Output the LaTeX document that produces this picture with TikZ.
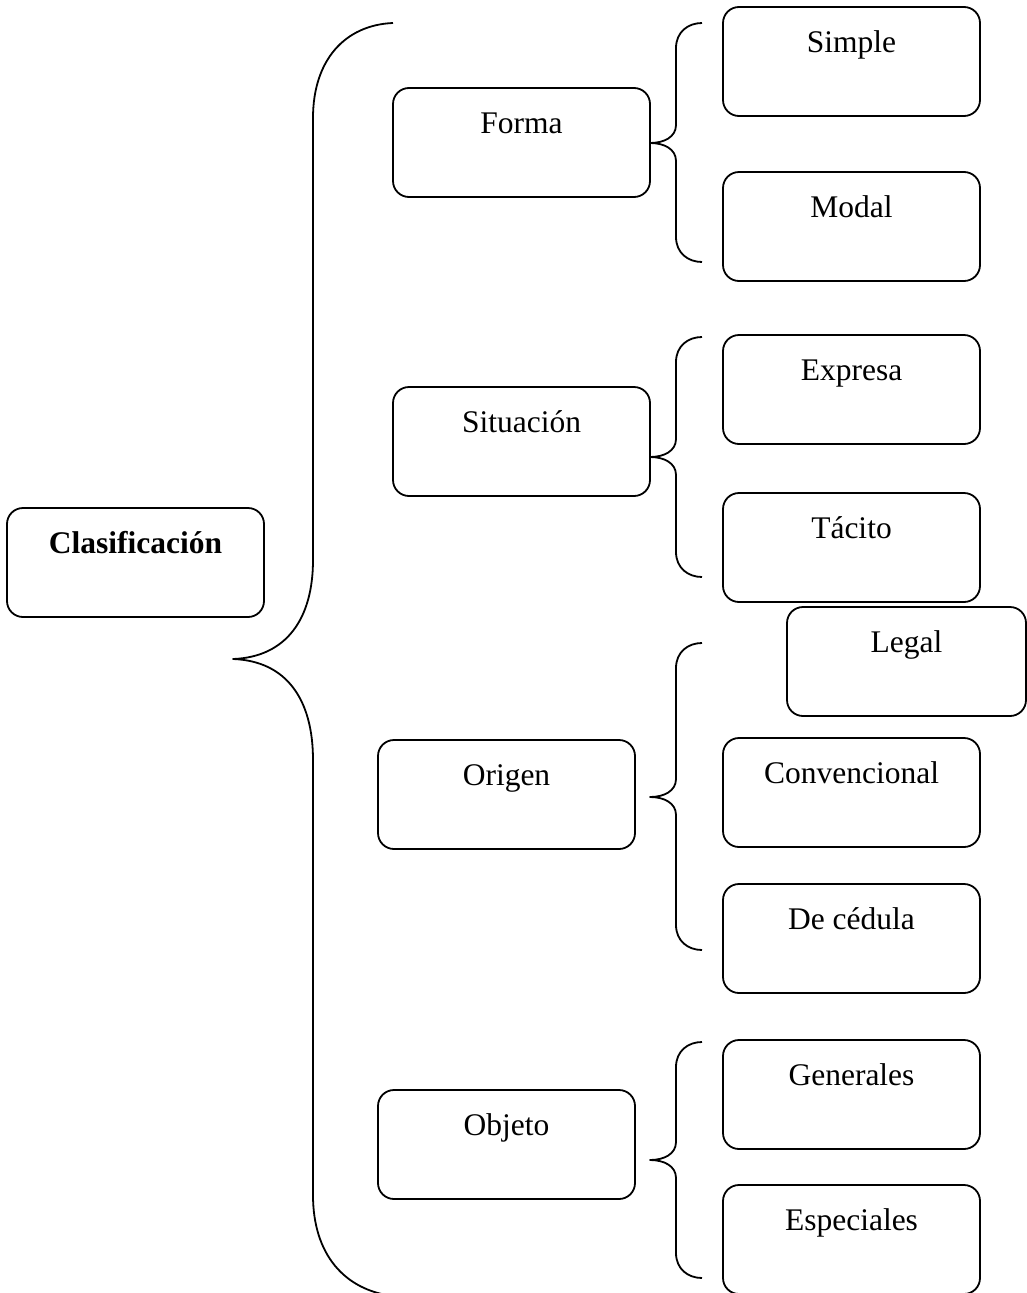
\documentclass[tikz,border=0pt]{standalone}
\usepackage{fontspec}
\setmainfont{Liberation Serif}
\tikzset{
  box/.style={draw, line width=1.8pt, rounded corners=16pt, inner sep=0pt,
    anchor=base, text height=45pt, text depth=64pt, minimum width=257pt,
    font=\fontsize{31.5}{36}\selectfont},
  brace/.style={draw, line width=1.8pt, line join=round},
}
% curly brace opening to the right: tip x, tip y, top y, bottom y
\newcommand\smallbrace[4]{%
  \draw[brace] ({#1+52},#3) .. controls ({#1+38},#3) and ({#1+26},{#3+9}) .. ({#1+26},{#3+25})
    -- ({#1+26},{#2-18}) .. controls ({#1+26},{#2-6}) and ({#1+14},#2) .. (#1,#2)
    .. controls ({#1+14},#2) and ({#1+26},{#2+6}) .. ({#1+26},{#2+18})
    -- ({#1+26},{#4-25}) .. controls ({#1+26},{#4-9}) and ({#1+38},#4) .. ({#1+52},#4);}
\begin{document}
\begin{tikzpicture}[x=1pt, y=-1pt]
  \useasboundingbox (0,0) rectangle (1027,1293);

  % root
  \node[box, font=\fontsize{31.5}{36}\selectfont\bfseries] (clas) at (135.5,553) {Clasificación};

  % first level
  \node[box] (forma)  at (521.5,133)  {Forma};
  \node[box] (sit)    at (521.5,432)  {Situación};
  \node[box] (origen) at (506.5,785)  {Origen};
  \node[box] (objeto) at (506.5,1135) {Objeto};

  % second level
  \node[box] (simple)  at (851.5,52)   {Simple};
  \node[box] (modal)   at (851.5,217)  {Modal};
  \node[box] (expresa) at (851.5,380)  {Expresa};
  \node[box] (tacito)  at (851.5,538)  {Tácito};
  \node[box, minimum width=239pt] (legal) at (906.5,652) {Legal};
  \node[box] (conv)    at (851.5,783)  {Convencional};
  \node[box] (cedula)  at (851.5,929)  {De cédula};
  \node[box] (gen)     at (851.5,1085) {Generales};
  \node[box] (esp)     at (851.5,1230) {Especiales};

  % large brace from the root to the four groups
  \coordinate (rootTip) at (233,659);
  \draw[brace] (393,23) .. controls (345,25) and (313,60) .. (313,118)
    -- (313,560) .. controls (313,618) and (287,657) .. (rootTip)
    .. controls (287,661) and (313,700) .. (313,760)
    -- (313,1195) .. controls (313,1255) and (345,1290) .. (393,1296);

  % group braces
  \smallbrace{650}{143}{23}{262}
  \smallbrace{650}{457}{337}{577}
  \smallbrace{650}{797}{643}{950}
  \smallbrace{650}{1160}{1042}{1278}
\end{tikzpicture}
\end{document}
